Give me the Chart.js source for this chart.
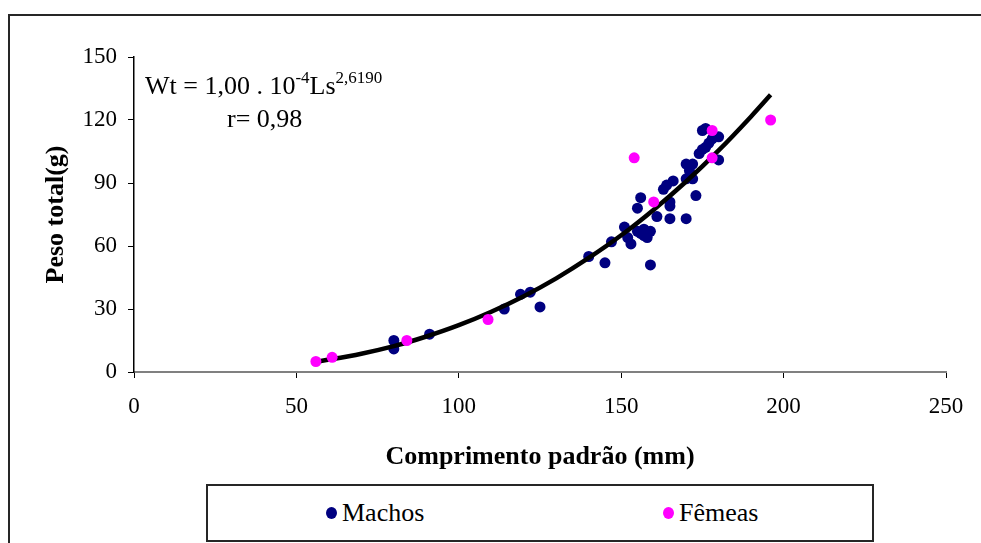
<!DOCTYPE html>
<html>
<head>
<meta charset="utf-8">
<title>Peso total x Comprimento padrão</title>
<script src="https://cdn.jsdelivr.net/npm/chart.js@4/dist/chart.umd.min.js"></script>
<style>
    html, body { margin: 0; padding: 0; background: #fff; }
    body { width: 981px; height: 543px; overflow: hidden; position: relative; font-family: "Liberation Serif", "Times New Roman", serif; }
    #frame { position: absolute; left: 8px; top: 14px; width: 1000px; height: 600px; border: 2px solid #262626; box-sizing: border-box; }
    #canvas { position: absolute; left: 0; top: 0; }
    #legend { position: absolute; left: 206px; top: 484px; width: 668px; height: 58px; border: 2px solid #262626; box-sizing: border-box; background: #fff; font-size: 26px; color: #000; }
    #legend .item { position: absolute; top: 0; height: 54px; display: flex; align-items: center; }
    #legend .dot { width: 11px; height: 12px; border-radius: 50%; margin-right: 5px; }
</style>
</head>
<body>
<div id="frame"></div>
<canvas id="canvas" width="981" height="543"></canvas>
<div id="legend"></div>
<script>
// comprimento padrão (mm) / peso total (g)
const machosLs = [80, 80, 91, 114, 119, 122, 125, 140, 145, 147, 151, 152, 153, 155, 156, 157, 157, 158, 159, 159,
    155, 156, 161, 163, 164, 165, 165, 165, 166, 170, 170, 170, 171, 172, 172, 173, 174, 175, 175, 176, 176, 177, 178, 180, 180];
const machosWt = [15, 11, 18, 30, 37, 38, 31, 55, 52, 62, 69, 64, 61, 67, 66, 68, 65, 64, 67, 51,
    78, 83, 74, 87, 89, 73, 79, 81, 91, 73, 92, 99, 96, 92, 99, 84, 104, 106, 115, 107, 116, 109, 111, 112, 101];

const femeasLs = [56, 61, 84, 109, 154, 160, 178, 178, 196];
const femeasWt = [5, 7, 15, 25, 102, 81, 115, 102, 120];

// curva ajustada (potência)
const curvaLs = [56, 70, 80, 90, 100, 110, 120, 130, 140, 150, 160, 170, 180, 190, 196];
const curvaWt = [4.8, 8.7, 12.3, 16.9, 22.3, 28.7, 36.1, 44.6, 54.3, 65.1, 77.3, 90.7, 105.5, 121.7, 132];

const xTicks = [0, 50, 100, 150, 200, 250];
const yTicks = [0, 30, 60, 90, 120, 150];

const serif = '"Liberation Serif", "Times New Roman", serif';

const toPoints = (xs, ys) => xs.map((x, i) => ({ x: x, y: ys[i] }));

// equação e coeficiente no canto superior esquerdo
const equationLabel = {
    id: 'equationLabel',
    afterDatasetsDraw(chart) {
        const ctx = chart.ctx;
        const main = '26px ' + serif;
        const sup = '17px ' + serif;
        ctx.save();
        ctx.fillStyle = '#000';
        ctx.textBaseline = 'alphabetic';
        ctx.textAlign = 'left';

        const parts = [
            { t: 'Wt = 1,00 . 10', f: main, dy: 0 },
            { t: '-4', f: sup, dy: -11 },
            { t: 'Ls', f: main, dy: 0 },
            { t: '2,6190', f: sup, dy: -11 }
        ];
        let x = chart.chartArea.left + 11;
        const y = 94;
        parts.forEach(p => {
            ctx.font = p.f;
            ctx.fillText(p.t, x, y + p.dy);
            x += ctx.measureText(p.t).width;
        });

        ctx.font = main;
        ctx.fillText('r= 0,98', chart.chartArea.left + 93, 127);
        ctx.restore();
    }
};

const ctx = document.getElementById('canvas').getContext('2d');
const chart = new Chart(ctx, {
    type: 'scatter',
    data: {
        datasets: [
            {
                label: 'Machos',
                data: toPoints(machosLs, machosWt),
                backgroundColor: '#000080',
                borderWidth: 0,
                pointRadius: 5.5,
                order: 2
            },
            {
                label: 'curva',
                type: 'line',
                data: toPoints(curvaLs, curvaWt),
                borderColor: '#000',
                borderWidth: 4.5,
                pointRadius: 0,
                cubicInterpolationMode: 'monotone',
                fill: false,
                order: 1
            },
            {
                label: 'Fêmeas',
                data: toPoints(femeasLs, femeasWt),
                backgroundColor: '#ff00ff',
                borderWidth: 0,
                pointRadius: 5.5,
                order: 0
            }
        ]
    },
    options: {
        responsive: false,
        animation: false,
        devicePixelRatio: 1,
        layout: {
            padding: { top: 57, right: 35, left: 41, bottom: 70 }
        },
        plugins: {
            legend: { display: false },
            tooltip: { enabled: false }
        },
        scales: {
            x: {
                type: 'linear',
                min: 0,
                max: 250,
                afterBuildTicks: (scale) => { scale.ticks = xTicks.map(v => ({ value: v })); },
                afterFit: (scale) => { scale.height = 101; },
                border: { color: '#808080', width: 2 },
                grid: { drawOnChartArea: false, drawTicks: true, tickLength: 6, color: '#000', lineWidth: 1 },
                ticks: { color: '#000', padding: 15, font: { family: serif, size: 23 }, maxRotation: 0 },
                title: {
                    display: true,
                    text: 'Comprimento padrão (mm)',
                    color: '#000',
                    padding: 0,
                    font: { family: serif, size: 26, weight: 'bold' }
                }
            },
            y: {
                type: 'linear',
                min: 0,
                max: 150,
                afterBuildTicks: (scale) => { scale.ticks = yTicks.map(v => ({ value: v })); },
                afterFit: (scale) => { scale.width = 93; },
                border: { color: '#000', width: 1.5 },
                grid: { drawOnChartArea: false, drawTicks: true, tickLength: 6, color: '#000', lineWidth: 1 },
                ticks: { color: '#000', padding: 11, font: { family: serif, size: 23 } },
                title: {
                    display: true,
                    text: 'Peso total(g)',
                    color: '#000',
                    padding: 0,
                    font: { family: serif, size: 26, weight: 'bold' }
                }
            }
        }
    },
    plugins: [equationLabel]
});

// legenda com caixa, só com as séries de pontos
const legendOffsets = { 'Machos': 118, 'Fêmeas': 455 };
const legend = document.getElementById('legend');
chart.data.datasets.filter(ds => ds.label in legendOffsets).forEach(ds => {
    const item = document.createElement('div');
    item.className = 'item';
    item.style.left = legendOffsets[ds.label] + 'px';
    const dot = document.createElement('span');
    dot.className = 'dot';
    dot.style.background = ds.backgroundColor;
    const label = document.createElement('span');
    label.textContent = ds.label;
    item.appendChild(dot);
    item.appendChild(label);
    legend.appendChild(item);
});
</script>
</body>
</html>
